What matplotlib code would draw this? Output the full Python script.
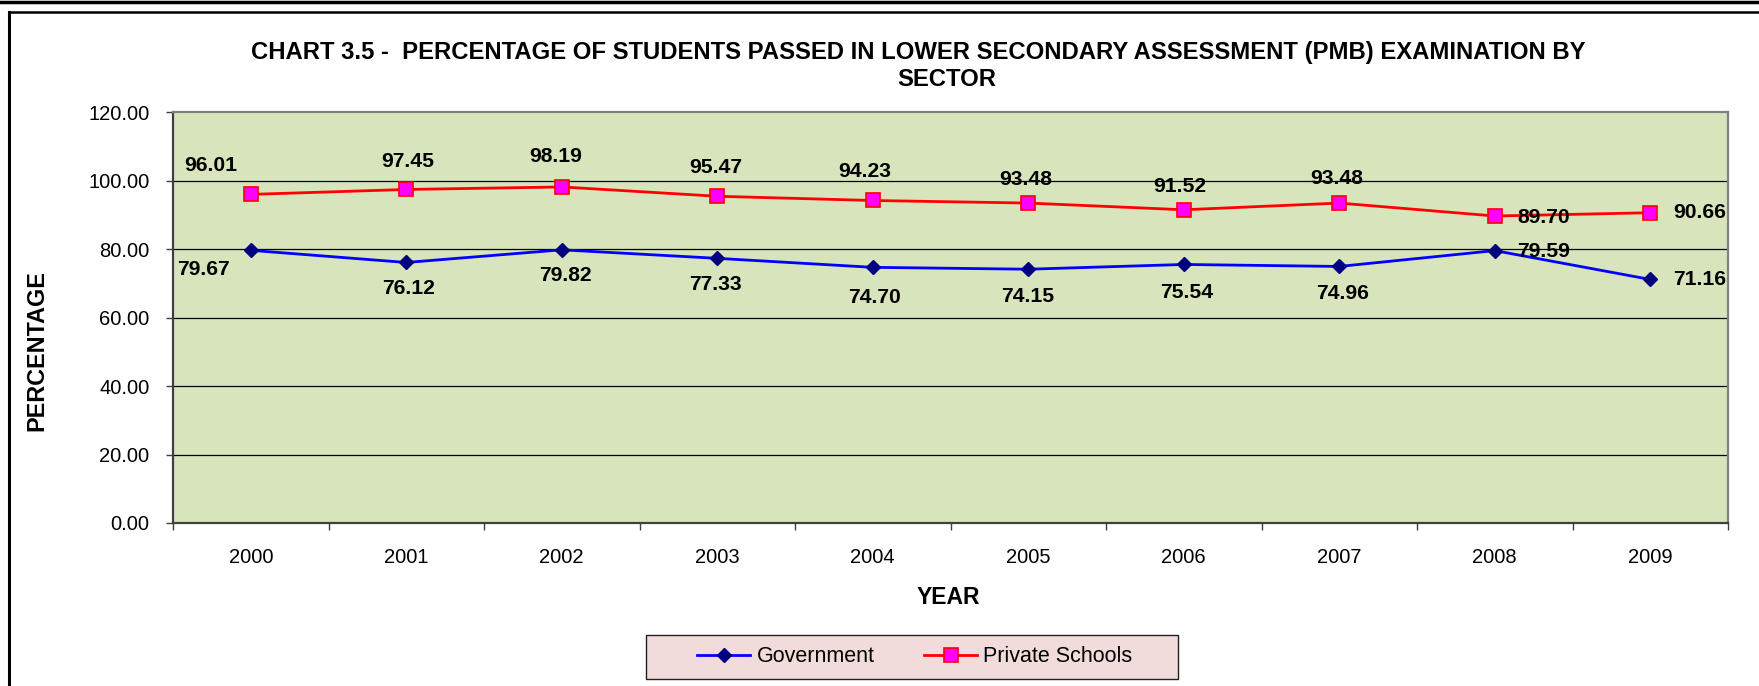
import matplotlib
matplotlib.use('Agg')
import matplotlib.pyplot as plt
from matplotlib.lines import Line2D
from matplotlib.patches import Rectangle
import numpy as np

plt.rcParams['font.family'] = ['Liberation Sans', 'DejaVu Sans']

years = ['2000', '2001', '2002', '2003', '2004', '2005', '2006', '2007', '2008', '2009']
government = [79.67, 76.12, 79.82, 77.33, 74.70, 74.15, 75.54, 74.96, 79.59, 71.16]
private = [96.01, 97.45, 98.19, 95.47, 94.23, 93.48, 91.52, 93.48, 89.70, 90.66]
y_ticks = [0, 20, 40, 60, 80, 100, 120]
title_lines = ['CHART 3.5 -  PERCENTAGE OF STUDENTS PASSED IN LOWER SECONDARY ASSESSMENT (PMB) EXAMINATION BY',
               'SECTOR']

# label offsets in pixels (dx right, dy down) as placed in the original
priv_off = [(-40, -29), (2, -28), (-6, -30), (-2, -29), (-8, -29), (-3, -24), (-4, -23), (-3, -25), (49, 1), (49, 0)]
gov_off = [(-47, 19), (2, 26), (4, 26), (-2, 26), (2, 30), (-1, 27), (3, 28), (3, 27), (49, 1), (49, 0)]

W, H = 1759, 686
fig = plt.figure(figsize=(W / 100, H / 100), dpi=100)
fig.patch.set_facecolor('white')

# outer frame lines
fig.add_artist(Line2D([0, 1], [1 - 1.5 / H, 1 - 1.5 / H], color='black', lw=2.5, transform=fig.transFigure))
fig.add_artist(Line2D([8.5 / W, 1], [1 - 12 / H, 1 - 12 / H], color='black', lw=1.8, transform=fig.transFigure))
fig.add_artist(Line2D([8.5 / W, 8.5 / W], [0, 1 - 12 / H], color='black', lw=2.2, transform=fig.transFigure))

ax = fig.add_axes([173 / W, 1 - 523 / H, 1555 / W, 410.7 / H])
ax.set_facecolor('#D8E4BC')

x = np.arange(len(years))
ax.plot(x, government, color='#0000FF', lw=2.0, marker='D', markersize=7,
        markerfacecolor='#000080', markeredgecolor='#000080', label='Government', zorder=3)
ax.plot(x, private, color='#FF0000', lw=2.0, marker='s', markersize=9.5,
        markerfacecolor='#FF00FF', markeredgecolor='#FF0000', markeredgewidth=1.2,
        label='Private Schools', zorder=3)

for i, v in enumerate(private):
    dx, dy = priv_off[i]
    ax.annotate(f'{v:.2f}', (x[i], v), xytext=(dx * 0.72, -dy * 0.72), textcoords='offset points',
                ha='center', va='center', fontsize=15.2, fontweight='bold', zorder=4)
for i, v in enumerate(government):
    dx, dy = gov_off[i]
    ax.annotate(f'{v:.2f}', (x[i], v), xytext=(dx * 0.72, -dy * 0.72), textcoords='offset points',
                ha='center', va='center', fontsize=15.2, fontweight='bold', zorder=4)

ax.set_xlim(-0.5, len(years) - 0.5)
ax.set_ylim(0, 120)
ax.set_yticks(y_ticks)
ax.set_yticklabels([f'{t:.2f}' for t in y_ticks], fontsize=14.5)
ax.set_xticks(np.arange(-0.5, len(years), 1.0))
ax.set_xticklabels([])
ax.set_xticks(x, minor=True)
ax.set_xticklabels(years, minor=True, fontsize=14.5)
ax.tick_params(axis='x', which='major', length=5, width=1, color='#404040', direction='out')
ax.tick_params(axis='x', which='minor', length=0, pad=18)
ax.tick_params(axis='y', length=5, width=1, color='#404040', direction='out', pad=12)

for t in y_ticks[1:-1]:
    ax.axhline(t, color='black', lw=0.9, zorder=1)

for s in ['top', 'right']:
    ax.spines[s].set_color('#808080')
    ax.spines[s].set_linewidth(1.6)
for s in ['left', 'bottom']:
    ax.spines[s].set_color('#404040')
    ax.spines[s].set_linewidth(1.6)

fig.text(918 / W, 1 - 53 / H, title_lines[0], ha='center', va='center', fontsize=17.2, fontweight='bold')
fig.text(947 / W, 1 - 79 / H, title_lines[1], ha='center', va='center', fontsize=17.2, fontweight='bold')
fig.text(37 / W, 1 - 351 / H, 'PERCENTAGE', rotation=90, ha='center', va='center', fontsize=16.8, fontweight='bold')
fig.text(948 / W, 1 - 598 / H, 'YEAR', ha='center', va='center', fontsize=16.5, fontweight='bold')

# legend box
fig.add_artist(Rectangle((646 / W, 1 - 679 / H), 532 / W, 44 / H, transform=fig.transFigure,
                         facecolor='#F2DCDB', edgecolor='#202020', lw=1.0))
fig.legend(loc='center', bbox_to_anchor=(915 / W, 1 - 657 / H), ncol=2, frameon=False,
           fontsize=15.5, handlelength=2.45, handletextpad=0.3, columnspacing=2.3)

fig.savefig('out.png', dpi=100)
